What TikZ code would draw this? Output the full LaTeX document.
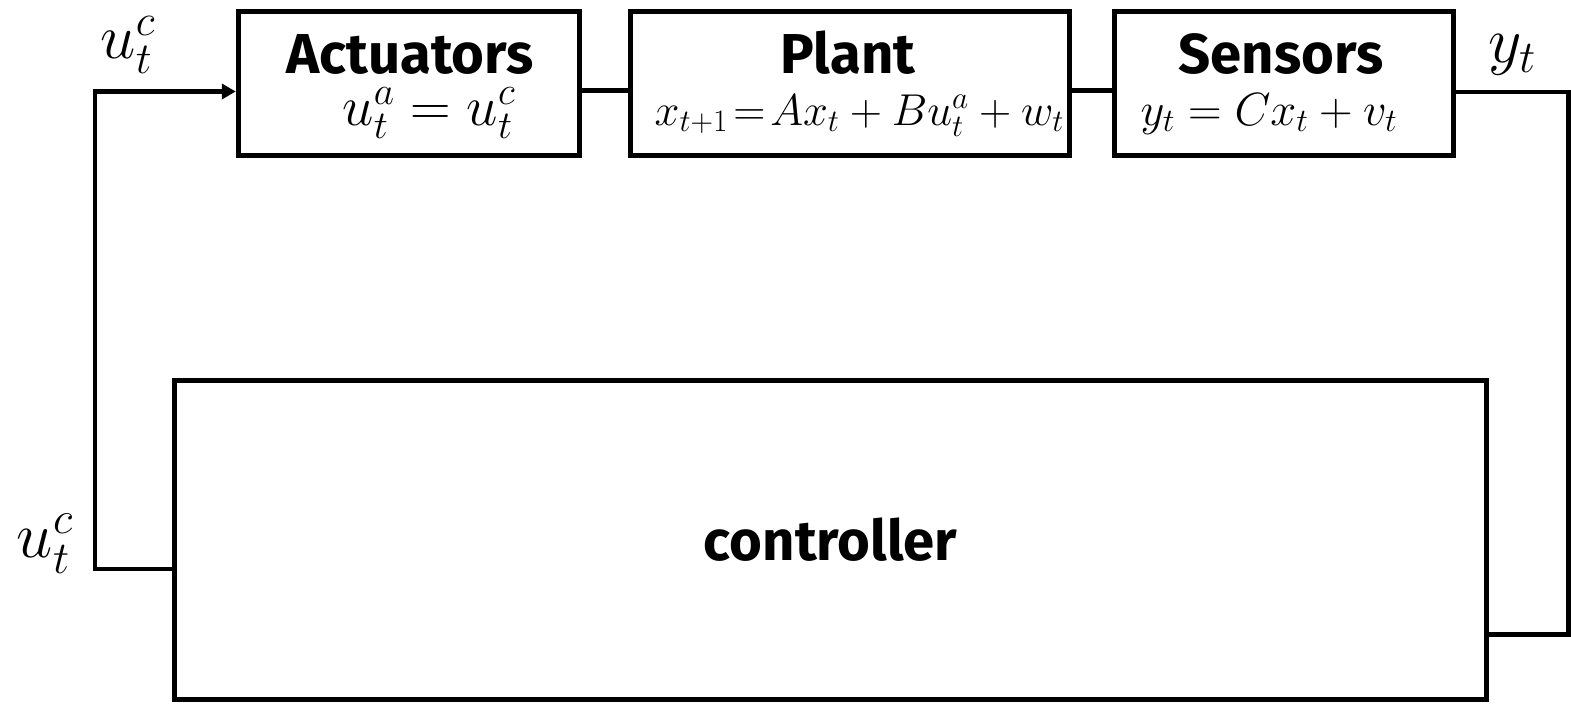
\RequirePackage{fix-cm}
\documentclass[tikz,border=0pt]{standalone}
\usepackage{amsmath}
\usepackage[no-math]{fontspec}
\newfontfamily\blockfont{Fira Sans}
\usepackage{tikz}
\usetikzlibrary{arrows.meta,calc}

\begin{document}
\begin{tikzpicture}[
  blk/.style={draw=black, line width=2.8pt, minimum height=2.88cm, inner sep=0pt},
  ttl/.style={font=\blockfont\bfseries\fontsize{32}{38}\selectfont, anchor=base},
  eqn/.style={font=\fontsize{25.4}{30}\selectfont, anchor=base},
  lbl/.style={font=\fontsize{37}{42}\selectfont},
  wire/.style={line width=2.8pt},
]
\useasboundingbox (0,0) rectangle (31.42,-14.2);

% blocks
\node[blk, minimum width=6.83cm] (act) at (8.18,-1.67) {};
\node[blk, minimum width=8.79cm] (plant) at (17.0,-1.67) {};
\node[blk, minimum width=6.78cm] (sens) at (25.68,-1.67) {};
\node[blk, minimum width=26.24cm, minimum height=6.39cm,
      font=\blockfont\bfseries\fontsize{32}{38}\selectfont] (ctrl) at (16.61,-10.8) {controller};

\node[ttl] (act-t) at (8.2,-1.46) {Actuators};
\node[ttl] (plant-t) at (16.96,-1.46) {Plant};
\node[ttl] (sens-t) at (25.62,-1.46) {Sensors};
\node[eqn, font=\fontsize{32}{38}\selectfont] (act-e) at (8.58,-2.5) {$u^a_t = u^c_t$};
\node[eqn] (plant-e) at (17.19,-2.5) {$x_{t+1}\!=\!Ax_t+Bu^a_t+w_t$};
\node[eqn, font=\fontsize{26.5}{31}\selectfont] (sens-e) at (25.38,-2.5) {$y_t = Cx_t + v_t$};

% signals
\node[lbl, font=\fontsize{36}{42}\selectfont] (uc-top) at (2.56,-0.9) {$u^c_t$};
\node[lbl] (y-out) at (30.24,-1.1) {$y_t$};
\node[lbl] (uc-bot) at (0.9,-10.88) {$u^c_t$};

\coordinate (mid) at (0,-1.81);
\draw[wire] (act.east |- mid) -- (plant.west |- mid);
\draw[wire] (plant.east |- mid) -- (sens.west |- mid);

\coordinate (yr) at (31.37,-1.84);
\coordinate (cin) at (31.37,-12.69);
\draw[wire] (sens.east |- yr) -- (yr) -- (cin) -- (ctrl.east |- cin);

\coordinate (ul) at (1.9,-1.83);
\coordinate (ll) at (1.9,-11.38);
\draw[wire, -{Triangle[length=0.28cm, width=0.3cm]}] (ctrl.west |- ll) -- (ll) -- (ul) -- (act.west |- ul);
\end{tikzpicture}
\end{document}
